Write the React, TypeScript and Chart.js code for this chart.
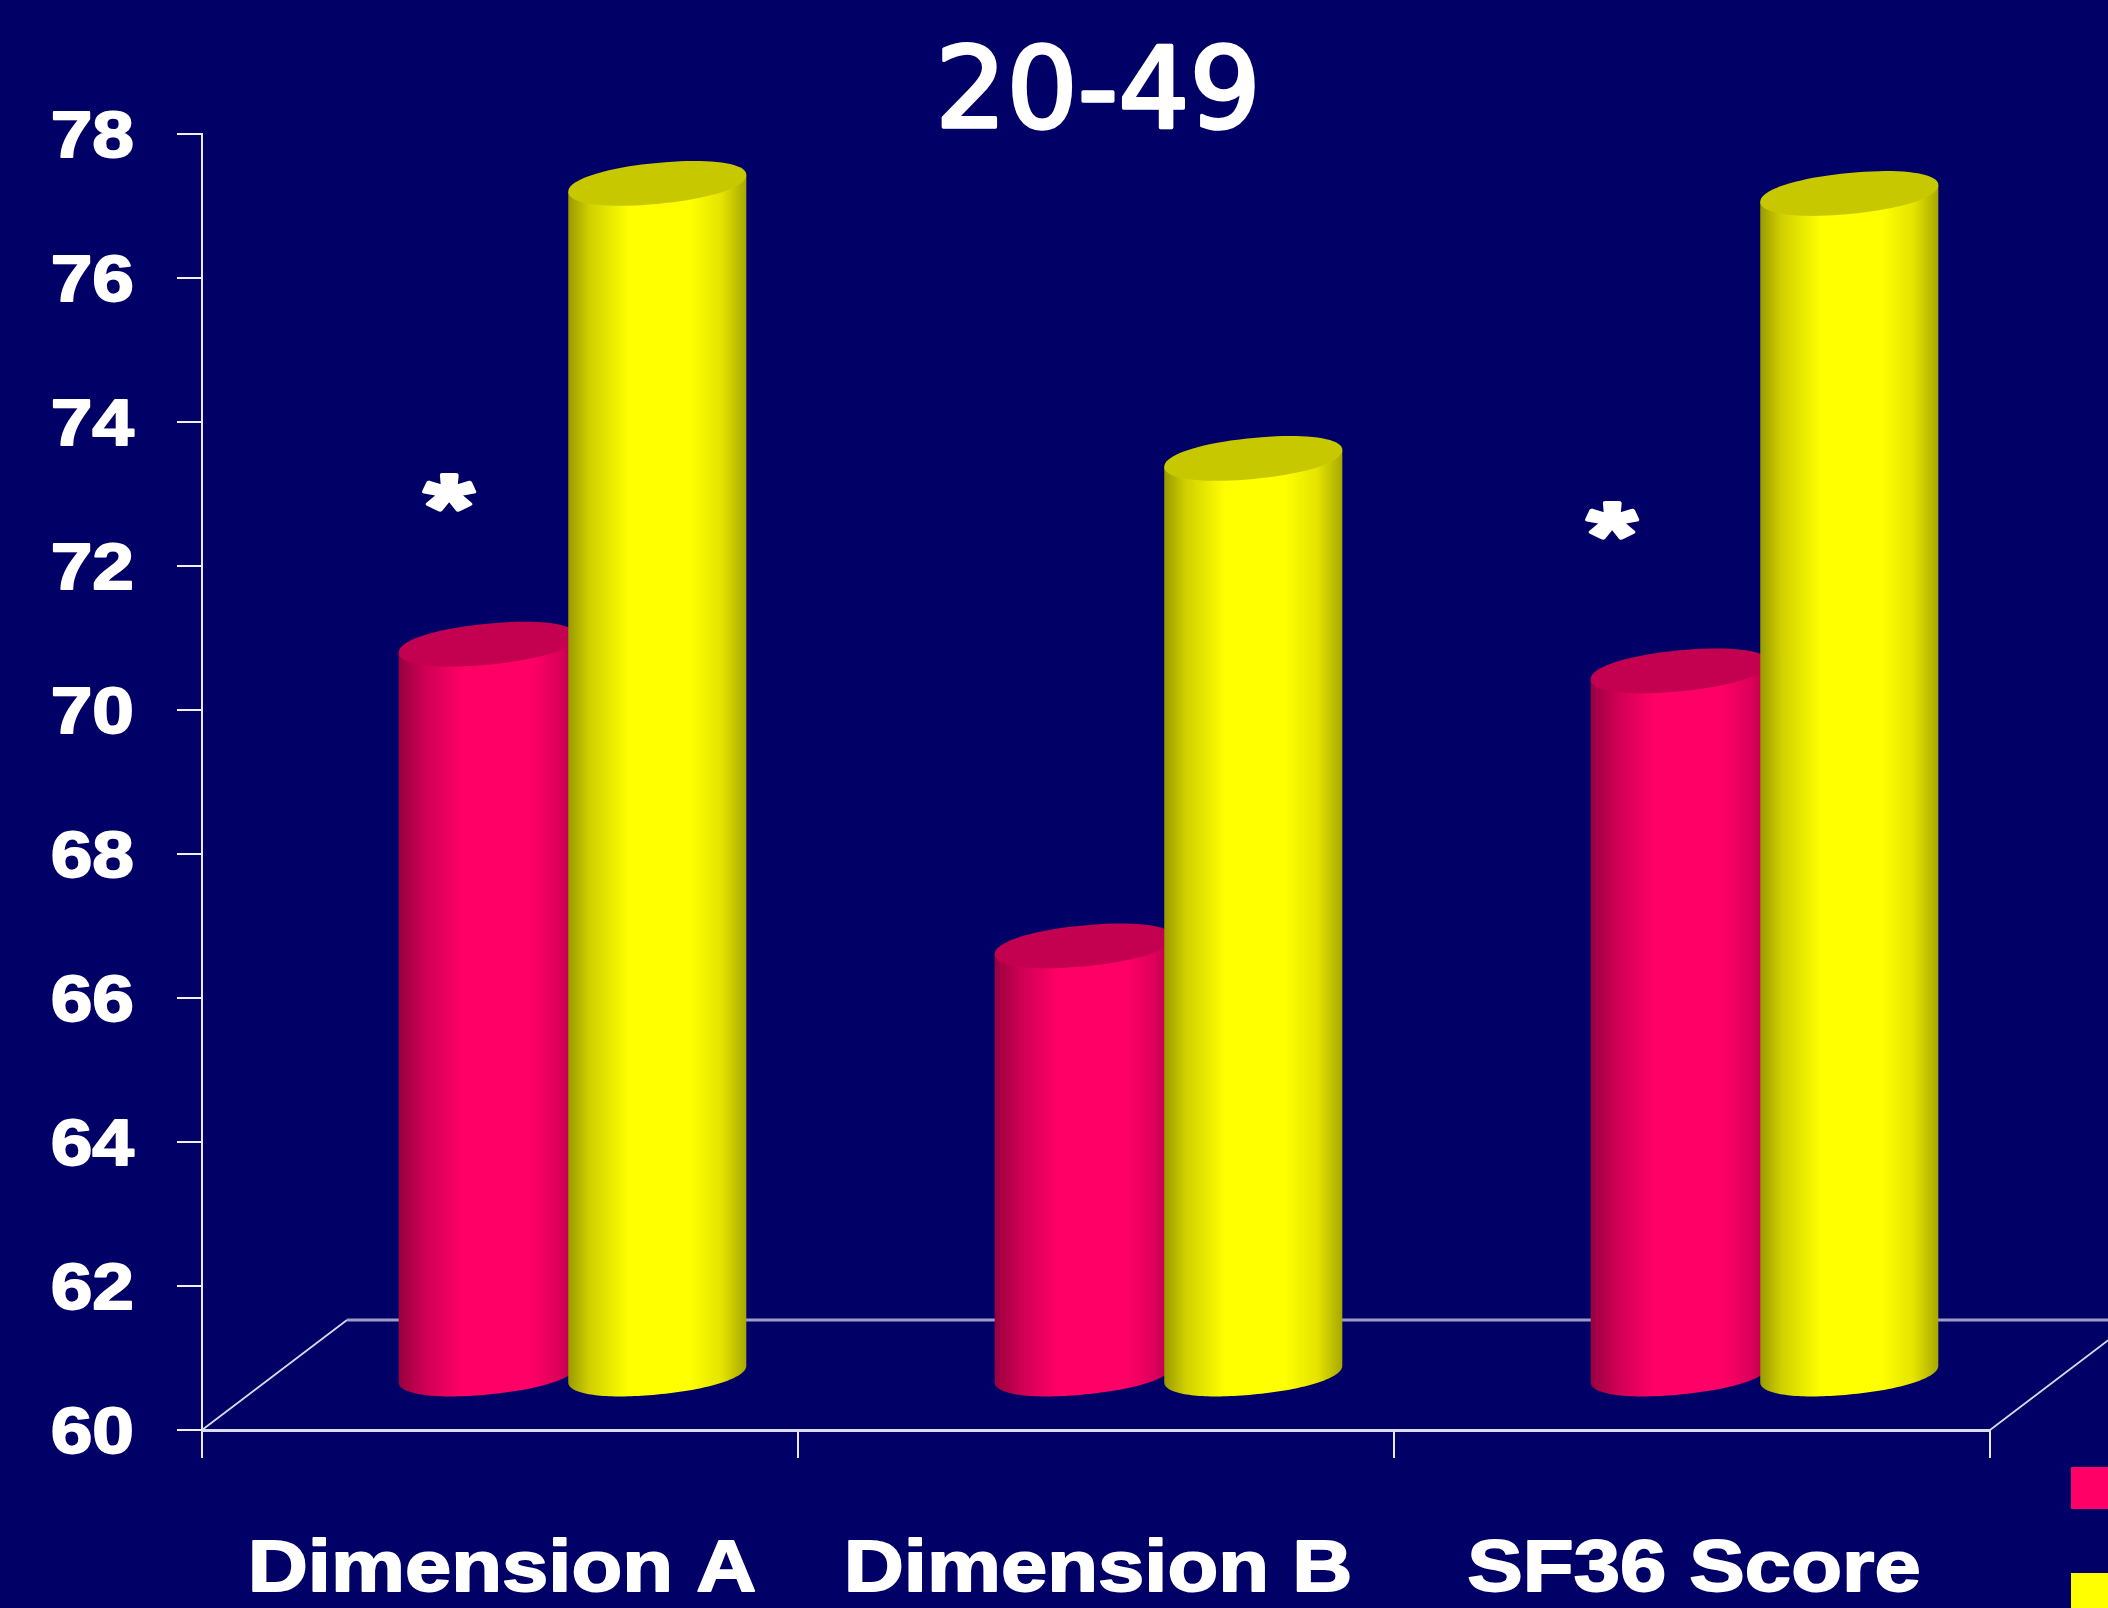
import React, { useEffect, useRef } from "react";
import { Chart, registerables } from "chart.js";

Chart.register(...registerables);

const categories = ["Dimension A", "Dimension B", "SF36 Score"];
const seriesNames = ["Group 1", "Group 2"];
const pinkValues = [70.15, 65.96, 69.78];
const yellowValues = [76.55, 72.73, 76.41];
const baseValue = 60;
const titleText = "20-49";
const starredCategories = ["Dimension A", "SF36 Score"];
const starValues = [72.9, 72.5];

const BG = "#000066";
const DEPTH_X = 145;
const DEPTH_Y = -110;
const TILT = -0.094;
const ELLIPSE_B = 20.5;
const ROUNDNESS = 0.94;

const palettes = [
  {
    body: "#ff0066",
    cap: "#c40050",
    stops: [
      [0, "#98003f"],
      [0.14, "#cc0054"],
      [0.36, "#ff0066"],
      [0.74, "#ff0066"],
      [0.9, "#dc005a"],
      [1, "#b0004a"],
    ],
  },
  {
    body: "#ffff00",
    cap: "#c8c800",
    stops: [
      [0, "#9a9a00"],
      [0.12, "#d0d000"],
      [0.34, "#ffff00"],
      [0.68, "#ffff00"],
      [0.86, "#e4e400"],
      [1, "#a8a800"],
    ],
  },
];

function arcPath(ctx: any, cx: number, cy: number, a: number, from: number, to: number, move = false) {
  const n = 80;
  for (let i = 0; i <= n; i++) {
    const t = from + ((to - from) * i) / n;
    const c = Math.cos(t);
    const s = Math.sin(t);
    const px = a * Math.sign(c) * Math.pow(Math.abs(c), ROUNDNESS);
    const py = ELLIPSE_B * Math.sign(s) * Math.pow(Math.abs(s), ROUNDNESS);
    const x = cx + px;
    const y = cy + TILT * px + py;
    if (i === 0 && move) ctx.moveTo(x, y);
    else ctx.lineTo(x, y);
  }
}

function drawCylinder(ctx: any, bar: any, pal: any) {
  const cx = bar.x + DEPTH_X / 2;
  const top = bar.y + DEPTH_Y / 2;
  const base = bar.base + DEPTH_Y / 2;
  const a = bar.width / 2;
  const g = ctx.createLinearGradient(cx - a, 0, cx + a, 0);
  pal.stops.forEach((s: any) => g.addColorStop(s[0], s[1]));
  ctx.beginPath();
  ctx.moveTo(cx - a, top - TILT * a);
  ctx.lineTo(cx - a, base - TILT * a);
  arcPath(ctx, cx, base, a, Math.PI, 0);
  ctx.lineTo(cx + a, top + TILT * a);
  ctx.closePath();
  ctx.fillStyle = g;
  ctx.fill();
  ctx.beginPath();
  arcPath(ctx, cx, top, a, 0, Math.PI * 2, true);
  ctx.closePath();
  ctx.fillStyle = pal.cap;
  ctx.fill();
}

function stretchedText(ctx: any, text: string, x: number, y: number, font: string, sx: number, stroke: number, align: CanvasTextAlign) {
  ctx.save();
  ctx.translate(x, y);
  ctx.scale(sx, 1);
  ctx.font = font;
  ctx.textAlign = align;
  ctx.textBaseline = "middle";
  ctx.fillStyle = "#ffffff";
  ctx.strokeStyle = "#ffffff";
  ctx.lineJoin = "round";
  ctx.lineWidth = stroke;
  if (stroke > 0) ctx.strokeText(text, 0, 0);
  ctx.fillText(text, 0, 0);
  ctx.restore();
}

const cylinderPlugin = {
  id: "cylinders",
  beforeDatasetsDraw(chart: any) {
    const { ctx, chartArea: ca } = chart;
    ctx.save();
    ctx.strokeStyle = "#d8d8ec";
    ctx.lineWidth = 1.8;
    ctx.beginPath();
    ctx.moveTo(ca.left, ca.bottom);
    ctx.lineTo(ca.left + DEPTH_X, ca.bottom + DEPTH_Y);
    ctx.moveTo(ca.right, ca.bottom);
    ctx.lineTo(ca.right + DEPTH_X, ca.bottom + DEPTH_Y);
    ctx.stroke();
    ctx.strokeStyle = "#9c9cc8";
    ctx.lineWidth = 3;
    ctx.beginPath();
    ctx.moveTo(ca.left + DEPTH_X, ca.bottom + DEPTH_Y);
    ctx.lineTo(ca.right + DEPTH_X, ca.bottom + DEPTH_Y);
    ctx.stroke();
    categories.forEach((_, i) => {
      [0, 1].forEach((d) => {
        const bar = chart.getDatasetMeta(d).data[i];
        drawCylinder(ctx, bar.getProps(["x", "y", "base", "width"], true), palettes[d]);
      });
    });
    ctx.restore();
  },
  beforeDatasetDraw() {
    return false;
  },
  afterDraw(chart: any) {
    const { ctx, scales } = chart;
    const xs = scales.x;
    const ys = scales.y;
    ctx.save();
    ys.ticks.forEach((t: any, i: number) => {
      stretchedText(ctx, String(t.label), 134, ys.getPixelForTick(i) + 5, 'bold 64px "Liberation Sans"', 1.17, 1.8, "right");
    });
    categories.forEach((c, i) => {
      stretchedText(ctx, c, xs.getPixelForTick(i) + 2, 1571, 'bold 73px "Liberation Sans"', 1.14, 1.8, "center");
    });
    stretchedText(ctx, titleText, (chart.chartArea.left + chart.chartArea.right) / 2 + 2, 98, '112px "DejaVu Sans"', 1, 3.5, "center");
    starredCategories.forEach((c, i) => {
      const idx = categories.indexOf(c);
      const x = xs.getPixelForTick(idx) - (i ? 80 : 51);
      stretchedText(ctx, "*", x, ys.getPixelForValue(starValues[i]) + 12, 'bold 92px "Liberation Sans"', 1.37, 4, "center");
    });
    // legend swatches, cut by the page edge
    ctx.fillStyle = chart.data.datasets[0].backgroundColor;
    ctx.fillRect(2071, 1467, 37, 42);
    ctx.fillStyle = chart.data.datasets[1].backgroundColor;
    ctx.fillRect(2071, 1573, 37, 35);
    ctx.restore();
  },
};

export default function App() {
  const ref = useRef<HTMLCanvasElement>(null);
  useEffect(() => {
    const chart = new Chart(ref.current as HTMLCanvasElement, {
      type: "bar",
      data: {
        labels: categories,
        datasets: [
          { label: seriesNames[0], data: pinkValues, backgroundColor: palettes[0].body, base: baseValue },
          { label: seriesNames[1], data: yellowValues, backgroundColor: palettes[1].body, base: baseValue },
        ],
      },
      options: {
        animation: false,
        responsive: false,
        devicePixelRatio: 1,
        layout: { padding: { left: 177, top: 134, right: 118, bottom: 150 } },
        datasets: { bar: { categoryPercentage: 0.569, barPercentage: 1.05 } },
        plugins: { legend: { display: false }, title: { display: false }, tooltip: { enabled: false } },
        scales: {
          x: {
            grid: { drawOnChartArea: false, drawTicks: true, tickLength: 28, color: "#e8e8f4", lineWidth: 2 },
            border: { color: "#dcdcf0", width: 3 },
            ticks: { display: false },
          },
          y: {
            min: 60,
            max: 78,
            grid: { drawOnChartArea: false, drawTicks: true, tickLength: 25, color: "#f0f0f8", lineWidth: 2 },
            border: { color: "#e8e8f4", width: 2 },
            ticks: { display: false, stepSize: 2 },
          },
        },
      },
      plugins: [cylinderPlugin],
    } as any);
    return () => chart.destroy();
  }, []);
  return (
    <div style={{ position: "fixed", left: 0, top: 0, width: 2108, height: 1608, background: BG, overflow: "hidden" }}>
      <canvas ref={ref} width={2108} height={1608} style={{ display: "block" }} />
    </div>
  );
}
